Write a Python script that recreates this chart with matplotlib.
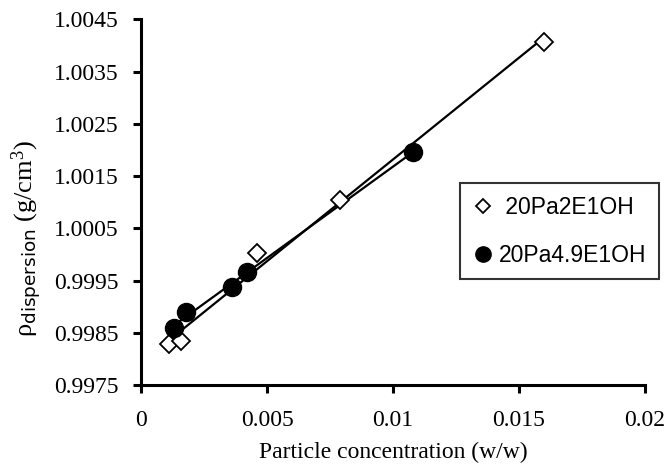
import numpy as np
import matplotlib
matplotlib.use("Agg")
import matplotlib.pyplot as plt
from matplotlib.lines import Line2D

# Data
x_2e = [0.0011, 0.0016, 0.0046, 0.0079, 0.0160]
y_2e = [0.99828, 0.99835, 1.00002, 1.00105, 1.00407]
x_49e = [0.0013, 0.0018, 0.0036, 0.0042, 0.0108]
y_49e = [0.99860, 0.99890, 0.99937, 0.99967, 1.00197]
labels = ["20Pa2E1OH", "20Pa4.9E1OH"]
xticks = [0, 0.005, 0.01, 0.015, 0.02]
xticklabels = ["0", "0.005", "0.01", "0.015", "0.02"]
yticks = [0.9975, 0.9985, 0.9995, 1.0005, 1.0015, 1.0025, 1.0035, 1.0045]
yticklabels = ["0.9975", "0.9985", "0.9995", "1.0005", "1.0015", "1.0025", "1.0035", "1.0045"]

plt.rcParams['mathtext.fontset'] = 'custom'
plt.rcParams['mathtext.rm'] = 'Liberation Serif'
plt.rcParams['mathtext.it'] = 'Liberation Serif:italic'
plt.rcParams['mathtext.sf'] = 'DejaVu Sans'

fig = plt.figure(figsize=(6.69, 4.68), dpi=100)
ax = fig.add_axes([141/669, 1-385/468, 504/669, 365.5/468])

# trend lines
for xs, ys in [(x_2e, y_2e), (x_49e, y_49e)]:
    p = np.polyfit(xs, ys, 1)
    xx = np.array([min(xs), max(xs)])
    ax.plot(xx, np.polyval(p, xx), color='black', lw=1.6, zorder=2)

ax.plot(x_2e, y_2e, linestyle='none', marker='D', ms=9.5, mfc='white', mec='black', mew=1.3, zorder=3)
ax.plot(x_49e, y_49e, linestyle='none', marker='o', ms=13, mfc='black', mec='black', zorder=4)

ax.set_xlim(0, 0.02)
ax.set_ylim(0.9975, 1.0045)
ax.set_xticks(xticks)
ax.set_xticklabels(xticklabels, fontfamily='Liberation Serif', fontsize=17)
ax.set_yticks(yticks)
ax.set_yticklabels(yticklabels, fontfamily='Liberation Serif', fontsize=17)

for s in ['top', 'right']:
    ax.spines[s].set_visible(False)
for s in ['left', 'bottom']:
    ax.spines[s].set_linewidth(2.2)
ax.tick_params(axis='both', direction='out', length=6, width=2.2)
ax.tick_params(axis='y', pad=10)
ax.tick_params(axis='x', pad=12)

ax.set_xlabel("Particle concentration (w/w)", fontfamily='Liberation Serif', fontsize=17, labelpad=8)
ax.set_ylabel(r"ρ$_{\mathsf{dispersion}}$ (g/cm$^{3}$)", fontfamily='Liberation Serif', fontsize=19)
ax.yaxis.set_label_coords(-0.195, 0.40)

handles = [
    Line2D([], [], linestyle='none', marker='D', ms=7.5, mfc='white', mec='black', mew=1.3),
    Line2D([], [], linestyle='none', marker='o', ms=11, mfc='black', mec='black'),
]
leg = fig.legend(handles, [" " + labels[0], labels[1]], loc='upper left',
                 bbox_to_anchor=(460/669, 1-183/468), frameon=True, fancybox=False,
                 prop={'family': 'Liberation Sans', 'size': 16.5}, handlelength=0.9,
                 handletextpad=0.25, labelspacing=1.1, borderpad=0.55, borderaxespad=0)
leg.get_frame().set_edgecolor('black')
leg.get_frame().set_linewidth(1.5)

fig.savefig("out.png", dpi=100)
